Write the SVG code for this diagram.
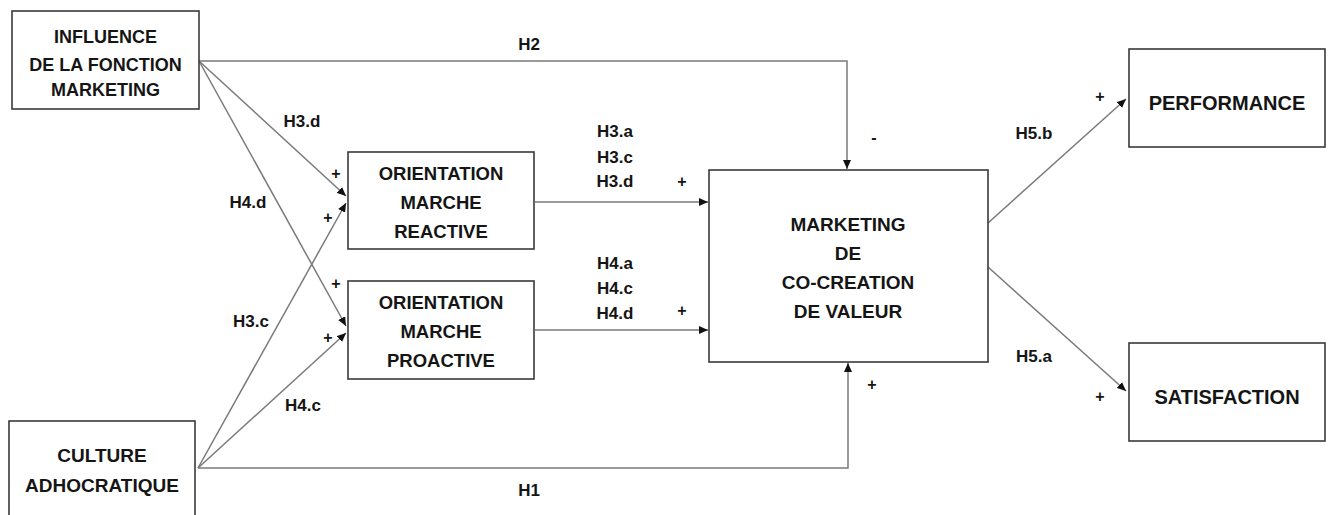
<svg xmlns="http://www.w3.org/2000/svg" width="1332" height="515" viewBox="0 0 1332 515">
<style>
.box{fill:#fff;stroke:#3a3a3a;stroke-width:1.6}
.t{font-family:"Liberation Sans",Arial,sans-serif;font-weight:bold;fill:#151515;text-anchor:middle}
.bt{font-size:18.5px}
.lb{font-size:17px}
.sg{font-size:16px}
.c{fill:none;stroke:#7a7a7a;stroke-width:1.5}
</style>
<defs>
<marker id="ah" markerUnits="userSpaceOnUse" markerWidth="9" markerHeight="8" refX="9" refY="4" orient="auto">
<path d="M0,0 L9,4 L0,8 z" fill="#111"/>
</marker>
</defs>
<rect width="1332" height="515" fill="#fff"/>
<g id="connectors">
<path class="c" d="M199,61 H847 V169" marker-end="url(#ah)"/>
<line class="c" x1="199" y1="61" x2="346" y2="196" marker-end="url(#ah)"/>
<line class="c" x1="199" y1="61" x2="346" y2="326" marker-end="url(#ah)"/>
<line class="c" x1="198" y1="468" x2="346" y2="203" marker-end="url(#ah)"/>
<line class="c" x1="198" y1="468" x2="346" y2="333" marker-end="url(#ah)"/>
<path class="c" d="M198,468 H848 V363" marker-end="url(#ah)"/>
<line class="c" x1="535" y1="202" x2="708" y2="202" marker-end="url(#ah)"/>
<line class="c" x1="535" y1="330" x2="708" y2="330" marker-end="url(#ah)"/>
<line class="c" x1="988" y1="223" x2="1126" y2="99" marker-end="url(#ah)"/>
<line class="c" x1="988" y1="267" x2="1126" y2="391" marker-end="url(#ah)"/>
</g>
<g id="labels">
<text class="t lb" x="529" y="50">H2</text>
<text class="t lb" x="302" y="127">H3.d</text>
<text class="t lb" x="248" y="208">H4.d</text>
<text class="t lb" x="251" y="327">H3.c</text>
<text class="t lb" x="303" y="411">H4.c</text>
<text class="t lb" x="529" y="496">H1</text>
<text class="t lb" x="615" y="137">H3.a</text>
<text class="t lb" x="615" y="163">H3.c</text>
<text class="t lb" x="615" y="187">H3.d</text>
<text class="t lb" x="615" y="269">H4.a</text>
<text class="t lb" x="615" y="294">H4.c</text>
<text class="t lb" x="615" y="319">H4.d</text>
<text class="t lb" x="1034" y="139">H5.b</text>
<text class="t lb" x="1034" y="362">H5.a</text>
<text class="t sg" x="336" y="179">+</text>
<text class="t sg" x="328" y="223">+</text>
<text class="t sg" x="336" y="289">+</text>
<text class="t sg" x="328" y="343">+</text>
<text class="t sg" x="682" y="187">+</text>
<text class="t sg" x="682" y="316">+</text>
<text class="t sg" x="874" y="143">-</text>
<text class="t sg" x="872" y="390">+</text>
<text class="t sg" x="1100" y="102">+</text>
<text class="t sg" x="1100" y="402">+</text>
</g>
<g id="influence">
<rect class="box" x="12" y="11" width="187" height="98"/>
<text class="t" font-size="18" x="105.5" y="42.5">INFLUENCE</text>
<text class="t" font-size="18" x="105.5" y="71">DE LA FONCTION</text>
<text class="t" font-size="18" x="105.5" y="96">MARKETING</text>
</g>
<g id="culture">
<rect class="box" x="9" y="421" width="186" height="100"/>
<text class="t" font-size="19" x="102" y="462">CULTURE</text>
<text class="t" font-size="19" x="102" y="492">ADHOCRATIQUE</text>
</g>
<g id="reactive">
<rect class="box" x="348" y="152" width="186" height="97"/>
<text class="t bt" x="441" y="180">ORIENTATION</text>
<text class="t bt" x="441" y="209">MARCHE</text>
<text class="t bt" x="441" y="238">REACTIVE</text>
</g>
<g id="proactive">
<rect class="box" x="348" y="281" width="186" height="98"/>
<text class="t bt" x="441" y="309">ORIENTATION</text>
<text class="t bt" x="441" y="338">MARCHE</text>
<text class="t bt" x="441" y="367">PROACTIVE</text>
</g>
<g id="cocreation">
<rect class="box" x="709" y="170" width="279" height="192"/>
<text class="t" font-size="19" x="848" y="231">MARKETING</text>
<text class="t" font-size="19" x="848" y="260">DE</text>
<text class="t" font-size="19" x="848" y="289">CO-CREATION</text>
<text class="t" font-size="19" x="848" y="318">DE VALEUR</text>
</g>
<g id="performance">
<rect class="box" x="1129" y="49" width="196" height="98"/>
<text class="t" font-size="20" x="1227" y="110">PERFORMANCE</text>
</g>
<g id="satisfaction">
<rect class="box" x="1129" y="343" width="196" height="98"/>
<text class="t" font-size="20" x="1227" y="404">SATISFACTION</text>
</g>
</svg>
